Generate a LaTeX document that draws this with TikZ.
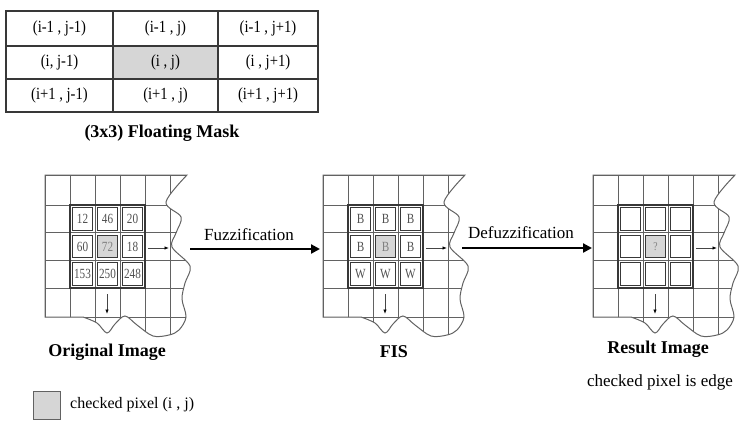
\documentclass[tikz,border=0pt]{standalone}
\usepackage{fontspec}
\usepackage{graphicx}
\setmainfont{Liberation Serif}
\usetikzlibrary{arrows.meta}

\definecolor{gridgray}{HTML}{626262}
\definecolor{boxgray}{HTML}{383838}
\definecolor{pixfill}{HTML}{D6D6D6}
\definecolor{txtgray}{HTML}{505050}

% horizontally condensed text
\newcommand{\narrowtxt}[1]{\scalebox{0.86}[1]{#1}}

% one torn-edged image patch: grid, 3x3 window and scan arrows
% #1 = shift of the patch, #2 = prefix for its coordinate names
\newcommand{\tornpanel}[2]{%
  \begin{scope}[shift={#1}]
    \begin{scope}
      \clip (0,0) -- (142,0) -- plot[smooth,tension=0.55] coordinates
        {(142,0) (121,27) (136,42) (131,58) (127,72) (145,91) (140,108)
         (137,124) (141,142) (134,155) (124,160) (108,161) (92,150)
         (80,141) (70,149) (62,158) (52,148) (38,142)} -- (0,142) -- cycle;
      \foreach \gx in {0,25,50,75,100,125} \draw[gridline] (\gx,-2) -- (\gx,175);
      \foreach \gy in {0,30,57,85,113,142} \draw[gridline] (-2,\gy) -- (165,\gy);
    \end{scope}
    \draw[gridline] (0,0) -- (142,0) -- plot[smooth,tension=0.55] coordinates
        {(142,0) (121,27) (136,42) (131,58) (127,72) (145,91) (140,108)
         (137,124) (141,142) (134,155) (124,160) (108,161) (92,150)
         (80,141) (70,149) (62,158) (52,148) (38,142)} -- (0,142) -- cycle;
    \fill[pixfill] (52.5,60.17) rectangle (72.5,82.83);
    \draw[outerline] (25,30) rectangle (100,113);
    \foreach \ci in {0,1,2}
      \foreach \cj in {0,1,2}
        \draw[cellline] ({27.5+25*\ci},{32.5+27.67*\cj})
                rectangle ({47.5+25*\ci},{27.5+27.67*(\cj+1)});
    \coordinate (#2rs) at (103,73);
    \coordinate (#2re) at (124,73);
    \coordinate (#2ds) at (62,119);
    \coordinate (#2de) at (62,139);
    \draw[smallarrow] (#2rs) -- (#2re);
    \draw[smallarrow] (#2ds) -- (#2de);
  \end{scope}}

\begin{document}
\begin{tikzpicture}[x=1pt,y=-1pt,
  every node/.style={inner sep=0pt},
  gridline/.style={draw=gridgray,line width=1pt},
  outerline/.style={draw=boxgray,line width=1.5pt},
  cellline/.style={draw=boxgray,line width=1.2pt},
  tabline/.style={draw=boxgray,line width=1.2pt},
  smallarrow/.style={draw=gridgray!70!black,line width=0.8pt,
    -{Latex[length=4.5pt,width=3.5pt,color=black]}},
  mainarrow/.style={draw=black,line width=2.2pt,
    -{Triangle[length=9pt,width=9pt]}},
  tabtext/.style={font=\fontsize{17}{20}\selectfont},
  pixtext/.style={text=txtgray,font=\fontsize{14}{14}\selectfont},
  label/.style={font=\fontsize{18}{21}\selectfont\bfseries},
  steptext/.style={font=\fontsize{17}{20}\selectfont}]
\useasboundingbox (0,0) rectangle (739,421);

% ---- neighbourhood table
\fill[pixfill] (113,46) rectangle (218,79);
\draw[tabline] (6,11) rectangle (318,112);
\draw[tabline] (113,11) -- (113,112);
\draw[tabline] (218,11) -- (218,112);
\draw[tabline] (6,46) -- (318,46);
\draw[tabline] (6,79) -- (318,79);
\node[tabtext] (m11) at (59.5,28.5) {\narrowtxt{(i-1 , j-1)}};
\node[tabtext] (m12) at (165.5,28.5) {\narrowtxt{(i-1 , j)}};
\node[tabtext] (m13) at (268,28.5) {\narrowtxt{(i-1 , j+1)}};
\node[tabtext] (m21) at (59.5,62.5) {\narrowtxt{(i, j-1)}};
\node[tabtext] (m22) at (165.5,62.5) {\narrowtxt{(i , j)}};
\node[tabtext] (m23) at (268,62.5) {\narrowtxt{(i , j+1)}};
\node[tabtext] (m31) at (59.5,95.5) {\narrowtxt{(i+1 , j-1)}};
\node[tabtext] (m32) at (165.5,95.5) {\narrowtxt{(i+1 , j)}};
\node[tabtext] (m33) at (268,95.5) {\narrowtxt{(i+1 , j+1)}};
\node[label] (mcap) at (162,133) {(3x3) Floating Mask};

% ---- the three image patches
\tornpanel{(45,175)}{org}
\tornpanel{(323,175)}{fis}
\tornpanel{(593,175)}{res}

% grey levels of the original window
\node[pixtext] (o11) at (82.5,218.8) {\scalebox{0.8}[1]{12}};
\node[pixtext] (o12) at (107.5,218.8) {\scalebox{0.8}[1]{46}};
\node[pixtext] (o13) at (132.5,218.8) {\scalebox{0.8}[1]{20}};
\node[pixtext] (o21) at (82.5,246.5) {\scalebox{0.8}[1]{60}};
\node[pixtext,text=gray] (o22) at (107.5,246.5) {\scalebox{0.8}[1]{72}};
\node[pixtext] (o23) at (132.5,246.5) {\scalebox{0.8}[1]{18}};
\node[pixtext] (o31) at (82.5,274.2) {\scalebox{0.8}[1]{153}};
\node[pixtext] (o32) at (107.5,274.2) {\scalebox{0.8}[1]{250}};
\node[pixtext] (o33) at (132.5,274.2) {\scalebox{0.8}[1]{248}};

% fuzzy classes
\node[pixtext] (f11) at (360.5,218.8) {\scalebox{0.8}[1]{B}};
\node[pixtext] (f12) at (385.5,218.8) {\scalebox{0.8}[1]{B}};
\node[pixtext] (f13) at (410.5,218.8) {\scalebox{0.8}[1]{B}};
\node[pixtext] (f21) at (360.5,246.5) {\scalebox{0.8}[1]{B}};
\node[pixtext,text=gray] (f22) at (385.5,246.5) {\scalebox{0.8}[1]{B}};
\node[pixtext] (f23) at (410.5,246.5) {\scalebox{0.8}[1]{B}};
\node[pixtext] (f31) at (360.5,274.2) {\scalebox{0.8}[1]{W}};
\node[pixtext] (f32) at (385.5,274.2) {\scalebox{0.8}[1]{W}};
\node[pixtext] (f33) at (410.5,274.2) {\scalebox{0.8}[1]{W}};

% result pixel
\node[pixtext,text=gray,font=\fontsize{12}{12}\selectfont] (r22) at (655.5,246.5) {\scalebox{0.8}[1]{?}};

% ---- processing steps
\coordinate (fzs) at (190,249);
\coordinate (fze) at (320,249);
\draw[mainarrow] (fzs) -- (fze);
\node[steptext] (fz) at (249,235) {Fuzzification};
\coordinate (dfs) at (462,248);
\coordinate (dfe) at (592,248);
\draw[mainarrow] (dfs) -- (dfe);
\node[steptext] (df) at (521,233) {Defuzzification};

% ---- captions
\node[label] (orgcap) at (107,352) {Original Image};
\node[label] (fiscap) at (394,352) {FIS};
\node[label] (rescap) at (658,349) {Result Image};
\node[steptext] (edge) at (660,382) {checked pixel is edge};

% ---- key
\node[draw=gridgray,line width=0.9pt,fill=pixfill,minimum width=27pt,
      minimum height=28pt] (key) at (46.5,405) {};
\node[steptext,font=\fontsize{16}{19}\selectfont,anchor=west] (keytext)
      at (70,405) {checked pixel (i , j)};
\end{tikzpicture}
\end{document}
